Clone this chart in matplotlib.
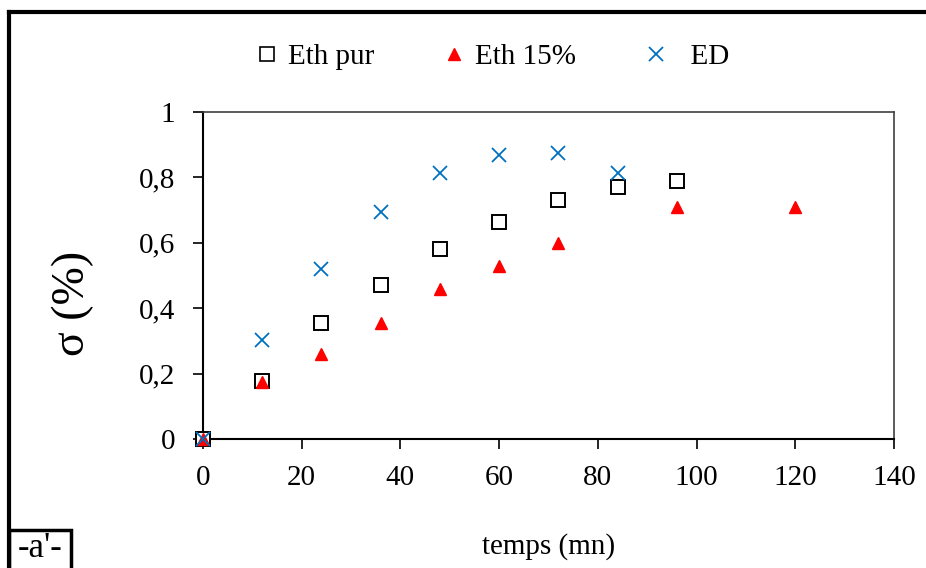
import matplotlib.pyplot as plt
from matplotlib.patches import Rectangle
from matplotlib.lines import Line2D

plt.rcParams['font.family'] = ['Liberation Serif', 'DejaVu Serif']

# temps (mn) et sigma
t_pur = [0, 12, 24, 36, 48, 60, 72, 84, 96]
s_pur = [0, 0.177, 0.355, 0.472, 0.58, 0.665, 0.73, 0.77, 0.788]

t_15 = [0, 12, 24, 36, 48, 60, 72, 96, 120]
s_15 = [0, 0.175, 0.26, 0.355, 0.46, 0.53, 0.60, 0.71, 0.71]

t_ed = [0, 12, 24, 36, 48, 60, 72, 84]
s_ed = [0, 0.303, 0.52, 0.695, 0.813, 0.868, 0.875, 0.813]

xticks = [0, 20, 40, 60, 80, 100, 120, 140]
yticks = [0, 0.2, 0.4, 0.6, 0.8, 1]
ytick_labels = ['0', '0,2', '0,4', '0,6', '0,8', '1']

fig = plt.figure(figsize=(9.26, 5.68), dpi=100)
ax = fig.add_axes([0.2192, 0.2271, 0.7462, 0.5757])

ax.plot(t_pur, s_pur, ls='none', marker='s', ms=10, mfc='white', mec='black', mew=1.4,
        label='Eth pur', zorder=3, clip_on=False)
ax.plot(t_15, s_15, ls='none', marker='^', ms=9, mfc='#FF0000', mec='#FF0000',
        label='Eth 15%', zorder=4, clip_on=False)
ax.plot(t_ed, s_ed, ls='none', marker='x', ms=10, mec='#0070C0', mew=1.3,
        label='ED', zorder=5, clip_on=False)

ax.set_xlim(0, 140)
ax.set_ylim(0, 1)
ax.set_xticks(xticks)
ax.set_yticks(yticks)
ax.set_yticklabels(ytick_labels)
ax.tick_params(direction='out', length=7, width=1.2, labelsize=21)
ax.tick_params(axis='y', pad=13)
ax.tick_params(axis='x', pad=12)
for s in ['left', 'bottom']:
    ax.spines[s].set_linewidth(1.5)
    ax.spines[s].set_color('black')
for s in ['top', 'right']:
    ax.spines[s].set_linewidth(1.2)
    ax.spines[s].set_color('#404040')

ax.set_xlabel('temps (mn)', fontsize=21, labelpad=30)
ax.set_ylabel('σ (%)', fontsize=33)
ax.yaxis.set_label_coords(-0.158, 0.416)

# legend above the plot
handles = [Line2D([], [], ls='none', marker='s', ms=10, mfc='white', mec='black', mew=1.2),
           Line2D([], [], ls='none', marker='^', ms=9, mfc='#FF0000', mec='#FF0000'),
           Line2D([], [], ls='none', marker='x', ms=10, mec='#0070C0', mew=1.3)]
fig.legend(handles, ['Eth pur', 'Eth 15%', '  ED'], loc='center', bbox_to_anchor=(0.532, 0.9),
           ncol=3, frameon=False, fontsize=21, handlelength=0.8, handletextpad=0.3,
           columnspacing=2.35)

# outer frame and panel tag
fig.add_artist(Line2D([0.0097, 0.0097], [0, 0.979], color='black', lw=3, transform=fig.transFigure))
fig.add_artist(Line2D([0.0097, 1.0], [0.979, 0.979], color='black', lw=3, transform=fig.transFigure))
fig.add_artist(Rectangle((0.0097, -0.01), 0.067, 0.077, fill=False, ec='black', lw=2.5,
                         transform=fig.transFigure))
fig.text(0.043, 0.006, "-a'-", fontsize=25, ha='center', va='bottom')

fig.savefig('out.png', dpi=100)
